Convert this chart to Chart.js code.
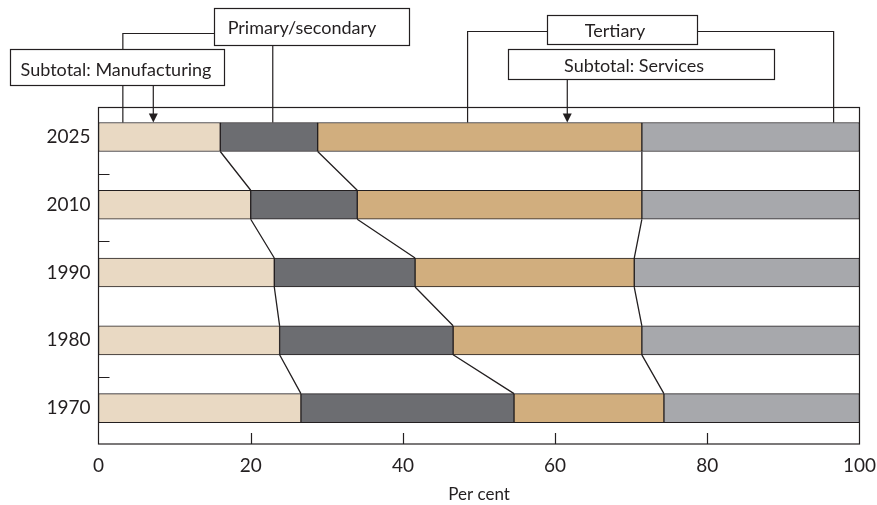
<!DOCTYPE html>
<html>
<head>
<meta charset="utf-8">
<script src="https://cdn.jsdelivr.net/npm/chart.js@4.4.1/dist/chart.umd.min.js"></script>
<style>
  html, body { margin: 0; padding: 0; background: #fff; }
  #wrap { width: 877px; height: 505px; }
</style>
</head>
<body>
<div id="wrap"><canvas id="c" width="877" height="505"></canvas></div>
<script>
// Employment shares by sector, per cent of total
const years = ['2025', '2010', '1990', '1980', '1970'];
const manufacturing = [16, 20, 23.1, 23.8, 26.6];
const otherPrimarySecondary = [12.8, 14, 18.5, 22.8, 28];
const services = [42.6, 37.4, 28.8, 24.8, 19.7];
const otherTertiary = [28.6, 28.6, 29.6, 28.6, 25.7];
const xTickValues = [0, 20, 40, 60, 80, 100];
const yearGapTicks = [0.55, 1.53, 3.54];

const INK = '#231f20';
const FONT = 'Lato, "Open Sans", sans-serif';

function points(values) {
  return values.map((v, i) => ({ x: v, y: i }));
}

function dataset(label, values, color) {
  return {
    label: label,
    data: points(values),
    backgroundColor: color,
    borderColor: INK,
    borderWidth: 1,
    borderSkipped: false,
    barThickness: 29
  };
}

// Frame, inward tick marks, connectors between bars and the bracket labels
const overlay = {
  id: 'overlay',
  afterDraw(chart) {
    const ctx = chart.ctx;
    const area = chart.chartArea;
    const xs = chart.scales.x;
    const ys = chart.scales.y;
    ctx.save();
    ctx.strokeStyle = INK;
    ctx.lineWidth = 1.2;

    // frame
    ctx.strokeRect(area.left, area.top, area.right - area.left, area.bottom - area.top);

    // x ticks pointing up into the plot
    ctx.beginPath();
    xs.ticks.forEach(t => {
      if (t.value <= xs.min || t.value >= xs.max) return;
      const px = Math.round(xs.getPixelForValue(t.value)) + 0.5;
      ctx.moveTo(px, area.bottom);
      ctx.lineTo(px, area.bottom - 11);
    });
    // short marks on the year axis
    yearGapTicks.forEach(v => {
      const py = Math.round(ys.getPixelForValue(v)) + 0.5;
      ctx.moveTo(area.left, py);
      ctx.lineTo(area.left + 11, py);
    });
    ctx.stroke();

    // connectors between the ends of neighbouring bars
    ctx.lineWidth = 1.3;
    ctx.beginPath();
    for (let d = 0; d < 3; d++) {
      const els = chart.getDatasetMeta(d).data;
      for (let i = 0; i < els.length - 1; i++) {
        const a = els[i], b = els[i + 1];
        ctx.moveTo(a.x, a.y + a.height / 2);
        ctx.lineTo(b.x, b.y - b.height / 2);
      }
    }
    ctx.stroke();

    const topBar = chart.getDatasetMeta(0).data[0];
    const barTop = topBar.y - topBar.height / 2;
    const vx = v => xs.getPixelForValue(v);

    // bracket leaders
    ctx.lineWidth = 1.2;
    ctx.beginPath();
    // Primary/secondary
    ctx.moveTo(214, 33.5); ctx.lineTo(vx(3.2), 33.5); ctx.lineTo(vx(3.2), barTop);
    ctx.moveTo(vx(22.9), 45); ctx.lineTo(vx(22.9), barTop);
    // Tertiary
    ctx.moveTo(547, 31.5); ctx.lineTo(vx(48.5), 31.5); ctx.lineTo(vx(48.5), barTop);
    ctx.moveTo(697, 31.5); ctx.lineTo(vx(96.6), 31.5); ctx.lineTo(vx(96.6), barTop);
    ctx.stroke();

    const boxes = [
      { text: 'Primary/secondary', x: 214, y: 8, w: 195, h: 37, cx: 302, base: 33.5 },
      { text: 'Subtotal: Manufacturing', x: 10, y: 49, w: 214, h: 36, cx: 116, base: 76 },
      { text: 'Tertiary', x: 547, y: 15, w: 150, h: 29, cx: 615, base: 37 },
      { text: 'Subtotal: Services', x: 508, y: 49, w: 266, h: 30, cx: 634, base: 71.5 }
    ];
    ctx.font = '18px ' + FONT;
    ctx.textAlign = 'center';
    ctx.textBaseline = 'alphabetic';
    boxes.forEach(b => {
      ctx.fillStyle = '#fff';
      ctx.fillRect(b.x, b.y, b.w, b.h);
      ctx.strokeRect(b.x + 0.5, b.y + 0.5, b.w, b.h);
      ctx.fillStyle = INK;
      ctx.fillText(b.text, b.cx, b.base);
    });

    // subtotal arrows
    const arrow = (x, y0) => {
      ctx.beginPath();
      ctx.moveTo(x, y0);
      ctx.lineTo(x, barTop - 8);
      ctx.stroke();
      ctx.beginPath();
      ctx.moveTo(x - 4.5, barTop - 9);
      ctx.lineTo(x + 4.5, barTop - 9);
      ctx.lineTo(x, barTop);
      ctx.closePath();
      ctx.fillStyle = INK;
      ctx.fill();
    };
    arrow(vx(7.2), 85);
    arrow(vx(61.6), 79);

    ctx.restore();
  }
};

new Chart(document.getElementById('c'), {
  type: 'bar',
  data: {
    datasets: [
      dataset('Manufacturing', manufacturing, '#e9d9c3'),
      dataset('Other primary/secondary', otherPrimarySecondary, '#6c6d71'),
      dataset('Services', services, '#d1ae7e'),
      dataset('Other tertiary', otherTertiary, '#a7a8ac')
    ]
  },
  options: {
    indexAxis: 'y',
    responsive: false,
    animation: false,
    events: [],
    layout: { padding: { top: 107.5, right: 17.5, left: 0, bottom: 0 } },
    plugins: { legend: { display: false }, tooltip: { enabled: false } },
    scales: {
      x: {
        type: 'linear',
        stacked: true,
        min: 0,
        max: 100,
        afterBuildTicks: s => { s.ticks = xTickValues.map(v => ({ value: v })); },
        afterFit: s => { s.height = 61; s.paddingLeft = 0; s.paddingRight = 0; },
        grid: { display: false, drawTicks: false },
        border: { display: false },
        ticks: { color: INK, font: { family: FONT, size: 19 }, padding: 10, maxRotation: 0, autoSkip: false },
        title: { display: true, text: 'Per cent', color: INK, font: { family: FONT, size: 17 }, padding: { top: 0, bottom: 0 } }
      },
      y: {
        type: 'linear',
        stacked: true,
        reverse: true,
        offset: false,
        min: -0.435,
        max: 4.53,
        afterBuildTicks: s => { s.ticks = years.map((_, i) => ({ value: i })); },
        afterFit: s => { s.width = 98.5; s.paddingTop = 0; s.paddingBottom = 0; },
        grid: { display: false, drawTicks: false, offset: false },
        border: { display: false },
        ticks: {
          color: INK,
          font: { family: FONT, size: 19 },
          padding: 8,
          autoSkip: false,
          callback: v => years[v]
        }
      }
    }
  },
  plugins: [overlay]
});
</script>
</body>
</html>
